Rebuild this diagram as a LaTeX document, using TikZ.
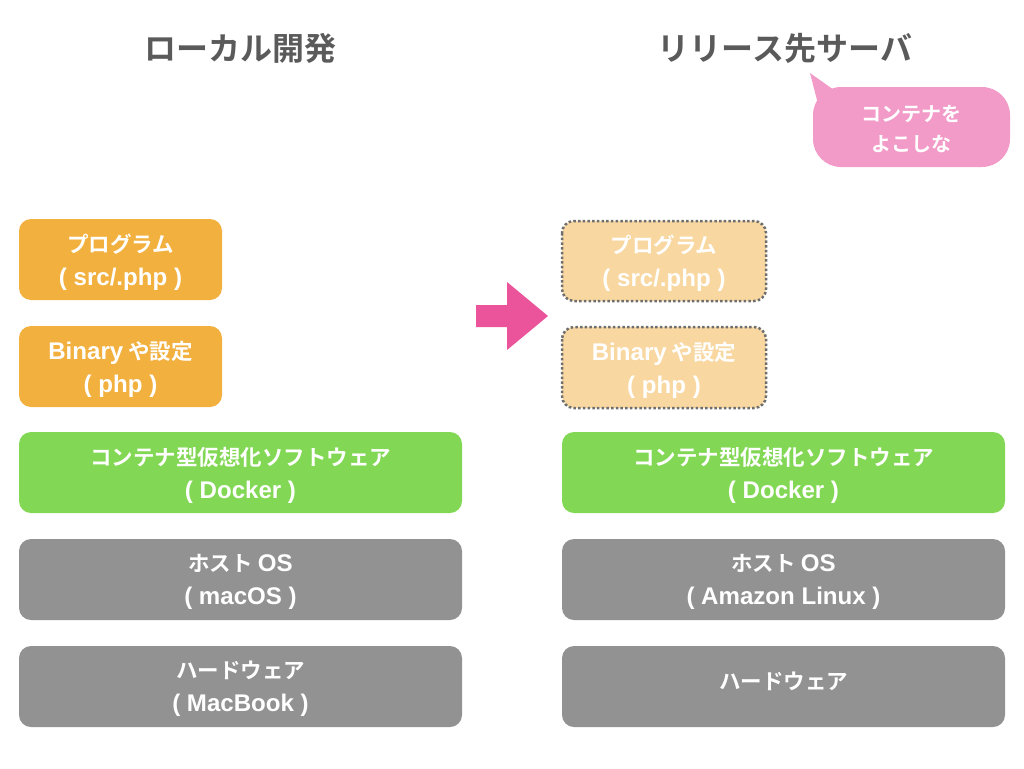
\documentclass[tikz,border=0pt]{standalone}
\usepackage{fontspec}
\setmainfont{Noto Sans CJK JP}[BoldFont={Noto Sans CJK JP Bold}]
\newfontfamily\latfont{Liberation Sans}[Scale=1.12]
\newcommand{\lat}[1]{{\latfont\bfseries #1}}
\definecolor{cOrange}{HTML}{F2B03E}
\definecolor{cLight}{HTML}{F8D7A0}
\definecolor{cGreen}{HTML}{82D854}
\definecolor{cGray}{HTML}{929292}
\definecolor{cPink}{HTML}{F29BC8}
\definecolor{cArrow}{HTML}{EB539A}
\definecolor{cTitle}{HTML}{5A5A5A}
\definecolor{cDot}{HTML}{6E6E6E}
\tikzset{
  layer/.style={rounded corners=12pt, text=white, font=\bfseries\fontsize{21.5}{33}\selectfont, align=center, inner sep=0pt},
  title/.style={text=cTitle, font=\bfseries\fontsize{32}{38}\selectfont},
  dotbox/.style={fill=cLight, draw=cDot, line width=2.5pt, dash pattern=on 2.5pt off 2.2pt, rounded corners=12pt},
}
\begin{document}
\begin{tikzpicture}[x=1pt,y=-1pt]
\useasboundingbox (0,0) rectangle (1024,768);
% titles
\node[title] (t1) at (240,48) {ローカル開発};
\node[title] (t2) at (785,48) {リリース先サーバ};
% left column
\fill[cOrange, rounded corners=12pt] (19,219) rectangle (222,300);
\node[layer] (l1) at (120.5,262) {プログラム\\\lat{( src/.php )}};
\fill[cOrange, rounded corners=12pt] (19,326) rectangle (222,407);
\node[layer] (l2) at (120.5,369) {\lat{Binary} や設定\\\lat{( php )}};
\fill[cGreen, rounded corners=12pt] (19,432) rectangle (462,513);
\node[layer] (l3) at (240.5,475) {コンテナ型仮想化ソフトウェア\\\lat{( Docker )}};
\fill[cGray, rounded corners=12pt] (19,539) rectangle (462,620);
\node[layer] (l4) at (240.5,582) {ホスト \lat{OS}\\\lat{( macOS )}};
\fill[cGray, rounded corners=12pt] (19,646) rectangle (462,727);
\node[layer] (l5) at (240.5,689) {ハードウェア\\\lat{( MacBook )}};
% right column
\filldraw[dotbox] (562,221) rectangle (766,301);
\node[layer] (r1) at (664,263.5) {プログラム\\\lat{( src/.php )}};
\filldraw[dotbox] (562,327) rectangle (766,408);
\node[layer] (r2) at (664,370) {\lat{Binary} や設定\\\lat{( php )}};
\fill[cGreen, rounded corners=12pt] (562,432) rectangle (1005,513);
\node[layer] (r3) at (783.5,475) {コンテナ型仮想化ソフトウェア\\\lat{( Docker )}};
\fill[cGray, rounded corners=12pt] (562,539) rectangle (1005,620);
\node[layer] (r4) at (783.5,582) {ホスト \lat{OS}\\\lat{( Amazon Linux )}};
\fill[cGray, rounded corners=12pt] (562,646) rectangle (1005,727);
\node[layer] (r5) at (783.5,681) {ハードウェア};
% arrow
\fill[cArrow] (476,305) -- (507,305) -- (507,282) -- (548,316) -- (507,350) -- (507,327) -- (476,327) -- cycle;
% speech bubble
\fill[cPink] (810,73) -- (834,90) -- (818,104) -- cycle;
\fill[cPink, rounded corners=28pt] (813,87) rectangle (1010,167);
\node[layer, font=\bfseries\fontsize{20}{30}\selectfont] (b) at (911.5,129) {コンテナを\\よこしな};
\end{tikzpicture}
\end{document}
